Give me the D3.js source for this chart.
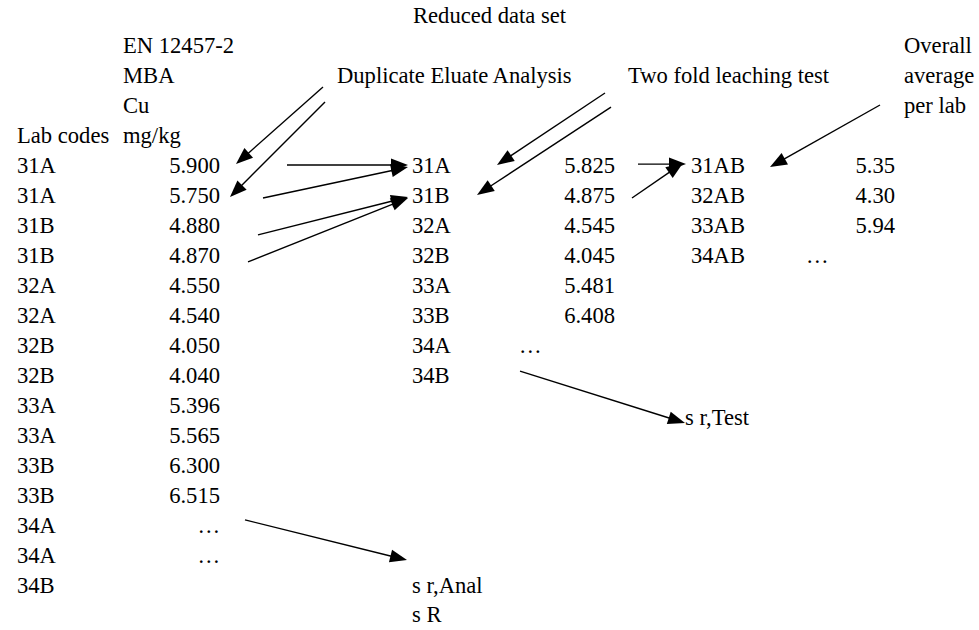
<!DOCTYPE html>
<html><head><meta charset="utf-8">
<script src="https://cdn.jsdelivr.net/npm/d3@7"></script>
<style>
html,body{margin:0;padding:0;background:#fff;}
svg{display:block;}
</style></head>
<body>
<svg id="chart" width="979" height="630"></svg>
<script>
// ---- data ----
const title = "Reduced data set";
const rawHeader = ["EN 12457-2", "MBA", "Cu", "mg/kg"];
const rawLabCodes = ["31A","31A","31B","31B","32A","32A","32B","32B","33A","33A","33B","33B","34A","34A","34B"];
const rawValues = ["5.900","5.750","4.880","4.870","4.550","4.540","4.050","4.040","5.396","5.565","6.300","6.515","…","…",""];
const dupLabCodes = ["31A","31B","32A","32B","33A","33B","34A","34B"];
const dupValues = ["5.825","4.875","4.545","4.045","5.481","6.408","…",""];
const labCodes = ["31AB","32AB","33AB","34AB"];
const labAverages = ["5.35","4.30","5.94","…"];
const overallHeader = ["Overall","average","per lab"];

// ---- layout ----
const FONT = "'Liberation Serif', 'Times New Roman', Times, 'DejaVu Serif', serif";
const FS = 22.6;
const svg = d3.select("#chart");
// row scale: row index -> text centre line
const y = d3.scaleLinear().domain([0, 1]).range([165, 195]);
const base = r => y(r) + 8;

const col = {lab1: 17, val1: 220, hdr2: 123, lab3: 412, val3: 615, lab4: 691, val4: 895};

function txt(x, r, s, anchor) {
  svg.append("text").attr("x", x).attr("y", base(r))
    .attr("font-family", FONT).attr("font-size", FS).attr("fill", "#000")
    .attr("text-anchor", anchor || "start").text(s);
}

txt(413, -5, title);
rawHeader.forEach((s, i) => txt(col.hdr2, -4 + i, s));
txt(col.lab1, -1, "Lab codes");
txt(337, -3, "Duplicate Eluate Analysis");
txt(628, -3, "Two fold leaching test");
overallHeader.forEach((s, i) => txt(904, -4 + i, s));

rawLabCodes.forEach((s, i) => txt(col.lab1, i, s));
rawValues.forEach((s, i) => { if (s) txt(col.val1, i, s, "end"); });

dupLabCodes.forEach((s, i) => txt(col.lab3, i, s));
dupValues.forEach((s, i) => {
  if (s === "…") txt(519, i, s);
  else if (s) txt(col.val3, i, s, "end");
});

labCodes.forEach((s, i) => txt(col.lab4, i, s));
labAverages.forEach((s, i) => {
  if (s === "…") txt(806, i, s);
  else txt(col.val4, i, s, "end");
});

txt(685, 8.4, "s r,Test");
txt(412, 14, "s r,Anal");
txt(412, 14.95, "s R");

// ---- arrows (x, row position) ----
const arrows = [
  [323, -2.6, 236, -0.03],
  [325, -2.1, 230, 1.07],
  [287, 0, 408, 0],
  [263, 1.1, 408, 0.07],
  [258, 2.33, 408, 1.07],
  [248, 3.23, 408, 1.1],
  [605, -2.4, 497, 0],
  [611, -1.93, 477, 1],
  [638, -0.03, 686, -0.03],
  [632, 1.1, 683, -0.07],
  [880, -2, 770, 0.07],
  [245, 11.83, 407, 13.17],
  [520, 6.87, 685, 8.6]
];
const headLen = 17, headHalf = 6.5;
const g = svg.append("g");
arrows.forEach(([x1, r1, x2, r2]) => {
  const X1 = x1, Y1 = y(r1), X2 = x2, Y2 = y(r2);
  const dx = X2 - X1, dy = Y2 - Y1, L = Math.hypot(dx, dy);
  const ux = dx / L, uy = dy / L;
  const bx = X2 - ux * headLen, by = Y2 - uy * headLen;
  g.append("line").attr("x1", X1).attr("y1", Y1).attr("x2", bx + ux * 2).attr("y2", by + uy * 2)
    .attr("stroke", "#000").attr("stroke-width", 1.4);
  g.append("path")
    .attr("d", d3.line()([[X2, Y2], [bx - uy * headHalf, by + ux * headHalf], [bx + uy * headHalf, by - ux * headHalf]]) + "Z")
    .attr("fill", "#000");
});
</script>
</body></html>
